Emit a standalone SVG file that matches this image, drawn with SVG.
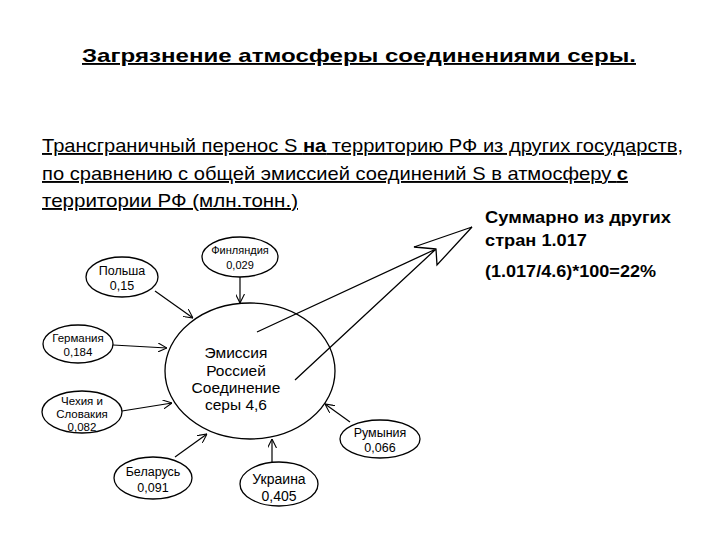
<svg xmlns="http://www.w3.org/2000/svg" width="720" height="540" viewBox="0 0 720 540">
<defs>
<marker id="ah" viewBox="0 0 10 10" refX="10" refY="5" markerWidth="9" markerHeight="9" orient="auto" markerUnits="userSpaceOnUse">
<path d="M0,0 L10,5 L0,10" fill="none" stroke="#000" stroke-width="1.2"/>
</marker>
</defs>
<style>
text{font-family:"Liberation Sans",Arial,sans-serif;fill:#000}
.title{font-size:19px;font-weight:bold;text-decoration:underline}
.body{font-size:19px;text-decoration:underline}
.b{font-weight:bold}
.note{font-size:17px;font-weight:bold}
.node ellipse{fill:#fff;stroke:#000;stroke-width:1.3}
.node text{font-size:12.5px;text-anchor:middle}
.main text{font-size:15.5px;text-anchor:middle}
.conn line{stroke:#000;stroke-width:1.2;marker-end:url(#ah)}
.big{fill:none;stroke:#000;stroke-width:1.3}
</style>
<rect width="720" height="540" fill="#fff"/>
<text class="title" x="82" y="62" textLength="554" lengthAdjust="spacingAndGlyphs">Загрязнение атмосферы соединениями серы.</text>
<text class="body" x="42" y="152" textLength="641" lengthAdjust="spacingAndGlyphs">Трансграничный перенос S <tspan class="b">на</tspan> территорию РФ из других государств,</text>
<text class="body" x="42" y="180" textLength="586" lengthAdjust="spacingAndGlyphs">по сравнению с общей эмиссией соединений S в атмосферу <tspan class="b">с</tspan></text>
<text class="body" x="42" y="207" textLength="256" lengthAdjust="spacingAndGlyphs">территории РФ (млн.тонн.)</text>
<text class="note" x="485" y="223" textLength="186" lengthAdjust="spacingAndGlyphs">Суммарно из других</text>
<text class="note" x="485" y="246" textLength="102" lengthAdjust="spacingAndGlyphs">стран 1.017</text>
<text class="note" x="485" y="277" textLength="171" lengthAdjust="spacingAndGlyphs">(1.017/4.6)*100=22%</text>
<g id="main" class="main">
<ellipse cx="250" cy="371" rx="85" ry="68" fill="#fff" stroke="#000" stroke-width="1.3"/>
<text x="236" y="358">Эмиссия</text>
<text x="236" y="376">Россией</text>
<text x="236" y="393">Соединение</text>
<text x="236" y="410">серы 4,6</text>
</g>
<g id="big-arrow">
<path class="big" d="M257,332 L436,249 M295,380 L436,249 M436,249 L414,247 L472,227 L437,265 Z"/>
</g>
<g id="connectors" class="conn">
<line x1="240" y1="277" x2="240" y2="303"/>
<line x1="155" y1="291" x2="193" y2="318"/>
<line x1="113" y1="345" x2="167" y2="348"/>
<line x1="122" y1="411" x2="172" y2="403"/>
<line x1="175" y1="457" x2="207" y2="434"/>
<line x1="272" y1="462" x2="272" y2="439"/>
<line x1="350" y1="422" x2="325" y2="404"/>
</g>
<g id="finland" class="node">
<ellipse cx="240" cy="257" rx="38" ry="20"/>
<text x="240" y="254" style="font-size:11px">Финляндия</text>
<text x="240" y="269" style="font-size:11px">0,029</text>
</g>
<g id="poland" class="node">
<ellipse cx="122" cy="277" rx="36" ry="20"/>
<text x="122" y="275">Польша</text>
<text x="122" y="290">0,15</text>
</g>
<g id="germany" class="node">
<ellipse cx="78" cy="344" rx="35" ry="19"/>
<text x="78" y="342" style="font-size:11.5px">Германия</text>
<text x="78" y="356" style="font-size:11.5px">0,184</text>
</g>
<g id="czech" class="node">
<ellipse cx="82" cy="412" rx="40" ry="21"/>
<text x="82" y="405" style="font-size:11.5px">Чехия и</text>
<text x="82" y="418" style="font-size:11.5px">Словакия</text>
<text x="82" y="431" style="font-size:11.5px">0,082</text>
</g>
<g id="belarus" class="node">
<ellipse cx="153" cy="478" rx="39" ry="21"/>
<text x="153" y="476">Беларусь</text>
<text x="153" y="492">0,091</text>
</g>
<g id="ukraine" class="node">
<ellipse cx="279" cy="484" rx="39" ry="22"/>
<text x="279" y="484" style="font-size:14px">Украина</text>
<text x="279" y="501" style="font-size:14px">0,405</text>
</g>
<g id="romania" class="node">
<ellipse cx="380" cy="439" rx="40" ry="19"/>
<text x="380" y="437">Румыния</text>
<text x="380" y="452">0,066</text>
</g>
</svg>
